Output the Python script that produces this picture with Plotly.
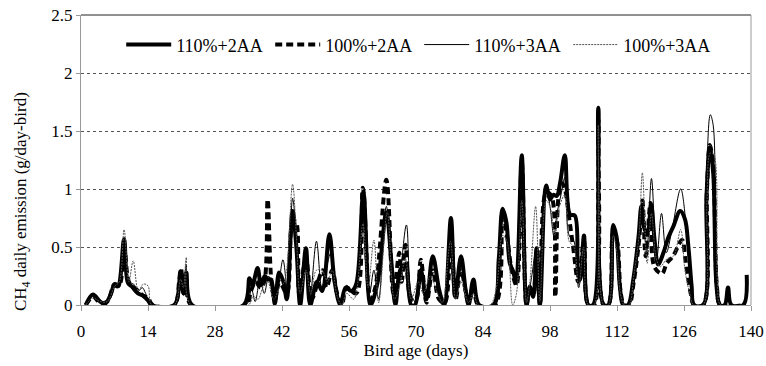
import plotly.graph_objects as go

# ---- data ----
a_day = [1,2.5,4,5,6.3,6.9,7.7,9,9.8,10.6,11.9,13,14,14.7,
         19.5,20.8,21.4,22,23.2,
         34,35.2,35.8,36.9,37.6,38.4,39,39.7,40.5,41.4,42.3,43,44.2,45,45.8,47,47.9,49.3,50.4,51.9,53,54.2,55.3,56.5,57.5,59,60.5,62,63.8,64.8,65.7,66.7,67.8,69,69.8,71,72.2,73.5,74.9,75.9,77.3,78.2,79.4,80.4,81,82,83.2,
         86.2,87.3,88.1,88.9,89.6,90.3,90.9,92.1,93.1,93.8,94.5,95.2,95.9,97.2,98,98.7,99.4,100.1,101.1,102.2,103.2,103.9,104.3,105.1,106,107,108.1,109.2,110.2,111.2,111.9,112.6,113.3,114.3,115.4,116.5,117.1,117.8,118.4,119.1,119.9,120.6,121.7,122.7,123.8,125.2,126.2,126.9,127.6,128.1,130,130.7,131.4,132.1,132.8,133.5,134.5,135.2,135.9,138.4,139.1]
a_val = [0,0.09,0.03,0.01,0.1,0.17,0.16,0.57,0.19,0.16,0.1,0.08,0.04,0,
         0,0.29,0.1,0.28,0,
         0,0.23,0.17,0.32,0.17,0.25,0.22,0.22,0.01,0.28,0.2,0.05,0.81,0.5,0,0.49,0,0.2,0.12,0.61,0.2,0,0.15,0.12,0.18,0.97,0,0.2,0.8,0.4,0,0.3,0.35,0,0,0.3,0.05,0.42,0.12,0,0.75,0.07,0.42,0.12,0,0.22,0,
         0,0.4,0.83,0.71,0.36,0.29,0.19,1.29,0,0.16,0.07,0.49,0,1.03,0.91,0.95,0.94,1.05,1.29,0.78,0.77,0.25,0.22,0.6,0,0,1.7,0,0,0.69,0.59,0.16,0,0,0.22,0.59,0.85,0.65,0.62,0.87,0.54,0.35,0.45,0.58,0.68,0.81,0.74,0.51,0.16,0,0,0.94,1.36,1.14,0.16,0,0,0.15,0,0,0.26]

b_day = [1,2.5,4,5.5,7,8,9,10,11,12,13,14,15,
         19.5,20.5,20.9,21.5,22,23,
         34.5,35.5,36.5,37.5,38.3,39,39.8,40.5,41.5,43,44.2,44.9,45.6,47,48.2,49.5,50.5,51.3,52.5,53.5,54.5,55.5,57.5,58.9,60.5,61.5,63.8,65.3,66.5,67,67.8,69,70,71,72.2,73.5,74.8,76,77.3,78.3,79.4,81,82,83,
         86.5,88.1,89,90,91,92.1,93.1,93.8,94.5,95.2,95.9,97.2,98.3,99.1,99.8,100.5,101.1,102,102.9,103.9,105.1,106,107.2,108.1,109.2,110.2,111.2,112,112.8,113.5,114.5,115.5,116.6,117.3,118,119,119.8,121.4,122.4,123.7,125.6,126.3,127.4,128.1,130,130.8,131.4,132.1,132.9,133.6,138.5]
b_val = [0,0.07,0.02,0.03,0.18,0.17,0.5,0.2,0.15,0.12,0.08,0.06,0,
         0,0.2,0.31,0.1,0.25,0,
         0,0.12,0.2,0.15,0.2,0.91,0.2,0.05,0.2,0.1,0.7,0.72,0.1,0.4,0.05,0.2,0.3,0.15,0.3,0.1,0,0.15,0.1,1.01,0.05,0.15,1.08,0.1,0.45,0.2,0.52,0.05,0.05,0.39,0.02,0.3,0.05,0.02,0.6,0.05,0.3,0.02,0.15,0,
         0,0.8,0.6,0.3,0.17,1.23,0,0.15,0.1,0.45,0,0.97,0.94,0.07,0.94,1.05,1.0,0.75,0.48,0.2,0.55,0,0,1.6,0,0,0.62,0.55,0.1,0,0,0.2,0.55,0.9,0.42,0.88,0.33,0.27,0.36,0.42,0.56,0.39,0.1,0,0,1.0,1.38,1.2,0.15,0,0]

c_day = [1,2.5,4,5.5,7,8,9,10,11,12,12.8,13.5,14.5,
         19.5,20.8,21.4,22,23,
         34.5,35.6,36.4,37.4,38.3,39.2,40.3,41,42.2,43.2,44.2,45,45.8,46.8,47.8,49.2,50.3,51.2,52.2,53.3,54.3,55.5,57,58.9,60.3,61.2,62.2,63.8,65.5,66.5,68,69,70,71,72,73.5,75,76,77.3,78.3,79.4,81,82,83,
         86.5,88.1,89,90,91,92.1,93.1,94,95.2,95.9,97.2,98,98.8,99.5,100.3,101.1,102,103,104,105.1,106,107.2,108.1,109.2,110.2,111.2,111.9,112.6,113.5,114.5,115.5,116.5,117.3,118.2,119.2,120.3,121.3,122.3,123.5,125.3,126.3,127.3,128,130,130.7,131.5,132.1,132.9,133.6,138.5]
c_val = [0,0.08,0.03,0.03,0.17,0.15,0.55,0.2,0.18,0.12,0.15,0.1,0,
         0,0.2,0.12,0.35,0,
         0,0.14,0.03,0.22,0.1,0.25,0.05,0.1,0.39,0.1,0.92,0.6,0.1,0.45,0.05,0.55,0.15,0.3,0.45,0.15,0,0.17,0.1,0.95,0.1,0.3,0.05,0.85,0.02,0.2,0.69,0.1,0.02,0.32,0.05,0.38,0.05,0.02,0.75,0.05,0.35,0.02,0.18,0,
         0,0.75,0.62,0.35,0.2,1.2,0.02,0.2,0.5,0.03,1.02,0.85,0.6,0.8,0.95,1.1,0.6,0.55,0.15,0.55,0,0,1.65,0,0,0.65,0.5,0.1,0,0,0.2,0.6,0.8,0.45,1.09,0.4,0.79,0.45,0.65,1.0,0.75,0.2,0,0,1.1,1.64,1.55,0.2,0,0]

d_day = [1,2.5,4,5.5,7,8,9,10,10.9,12,13,14,14.8,
         19.5,20.8,21.4,22,23,
         35,36,37,38,39,40.3,41.5,42.5,44.2,45,45.8,47,48,49.2,50.5,51.5,52.5,53.5,54.5,55.5,57,58.9,60,61.2,62.2,64,65.5,66.5,67.8,69,70.5,71.5,73,74.5,75.5,77.2,78.3,79.4,81,82,83,
         85.5,86.8,88.1,89,90.2,91,92.1,93.1,93.8,95,95.9,97.2,98,99,100,101.1,102,103,104,105,106,107.2,108.1,109.2,110.2,111.2,112,112.7,113.5,114.5,115.5,116.6,117.3,118.3,119.2,120.2,121,122.5,123.8,125.3,126.2,127.2,128,130,130.8,131.5,132.2,133,133.7,138.5]
d_val = [0,0.06,0.03,0.03,0.16,0.2,0.65,0.2,0.38,0.12,0.18,0.165,0,
         0,0.22,0.15,0.41,0,
         0,0.08,0.05,0.15,0.2,0.05,0.15,0.2,1.04,0.6,0.1,0.3,0.1,0.3,0.29,0.2,0.3,0.08,0,0.1,0.05,0.7,0.15,0.56,0.02,0.8,0.05,0.15,0.4,0.05,0.2,0.1,0.25,0.1,0.02,0.55,0.05,0.2,0.02,0.1,0,
         0,0.15,0.6,0.55,0,0.1,0.9,0.02,0.2,0.85,0.03,0.9,0.85,0.6,0.85,0.95,0.55,0.5,0.15,0.5,0,0,1.55,0,0,0.6,0.45,0.1,0,0,0.25,0.6,1.14,0.36,0.79,0.4,0.33,0.4,0.42,0.65,0.3,0.1,0,0,0.9,1.31,1.3,0.2,0,0]

series_names = ["110%+2AA", "100%+2AA", "110%+3AA", "100%+3AA"]
x_ticks = [0, 14, 28, 42, 56, 70, 84, 98, 112, 126, 140]
y_ticks = [0, 0.5, 1, 1.5, 2, 2.5]
y_labels = ["0", "0.5", "1", "1.5", "2", "2.5"]
y_title = "CH<sub>4</sub> daily emission (g/day-bird)"
x_title = "Bird age (days)"

FONT = "Liberation Serif, Times New Roman, serif"

fig = go.Figure()
styles = [
    dict(color="black", width=4, dash="solid"),
    dict(color="black", width=4, dash="7px,4px"),
    dict(color="black", width=1, dash="solid"),
    dict(color="#555555", width=1, dash="2px,1px"),
]
data = [(a_day, a_val), (b_day, b_val), (c_day, c_val), (d_day, d_val)]
for i in range(4):
    xs, ys = data[i]
    fig.add_trace(go.Scatter(x=xs, y=ys, mode="lines", name=series_names[i],
                             line=dict(shape="spline", smoothing=1.0, **styles[i])))

fig.update_layout(
    width=766, height=366,
    margin=dict(l=81, r=15, t=15, b=61, autoexpand=False),
    paper_bgcolor="white", plot_bgcolor="white",
    font=dict(family=FONT, size=16, color="black"),
    showlegend=True,
    legend=dict(orientation="h", x=0.06, y=0.897, xanchor="left", yanchor="middle",
                font=dict(family=FONT, size=18), itemwidth=45, entrywidth=89,
                bgcolor="rgba(0,0,0,0)", traceorder="normal"),
    xaxis=dict(range=[0, 140], tickvals=x_ticks, ticks="outside", ticklen=5,
               tickcolor="#999999", showline=True, linecolor="#999999", linewidth=1,
               showgrid=False, zeroline=False, automargin=False, ticklabelstandoff=6,
               title=dict(text=x_title, font=dict(family=FONT, size=17), standoff=2),
               tickfont=dict(family=FONT, size=17)),
    yaxis=dict(range=[0, 2.5], tickvals=y_ticks, ticktext=y_labels,
               ticks="outside", ticklen=4, tickcolor="#999999",
               showline=True, linecolor="#999999", linewidth=1,
               showgrid=True, gridcolor="#555555", griddash="dot", gridwidth=1,
               zeroline=False, automargin=False,
               tickfont=dict(family=FONT, size=17)),
)
# y-axis title placed as in the reference (slightly below the plot's middle)
fig.add_annotation(text=y_title, textangle=-90, xref="paper", yref="paper",
                   x=-0.088, y=0.355, xanchor="center", yanchor="middle",
                   showarrow=False, font=dict(family=FONT, size=17, color="black"))
# plot-area border: dark top, grey right
fig.add_shape(type="line", xref="paper", yref="paper", x0=0, x1=1, y0=1, y1=1,
              line=dict(color="#222222", width=1))
fig.add_shape(type="line", xref="paper", yref="paper", x0=1, x1=1, y0=0, y1=1,
              line=dict(color="#999999", width=1))

fig.write_html("out.html")
